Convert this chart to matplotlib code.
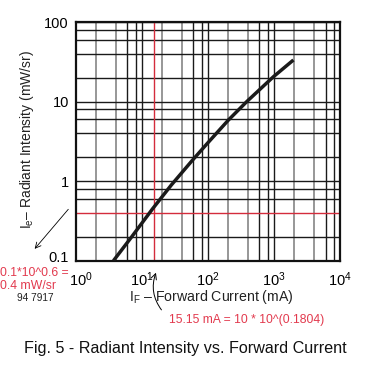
import matplotlib
matplotlib.use("Agg")
import matplotlib.pyplot as plt
import matplotlib.transforms as mtransforms
from matplotlib.ticker import FixedLocator, NullFormatter

plt.rcParams['font.family'] = ['Liberation Sans', 'DejaVu Sans']
plt.rcParams['mathtext.fontset'] = 'custom'
plt.rcParams['mathtext.rm'] = 'Liberation Sans'
plt.rcParams['mathtext.it'] = 'Liberation Sans:italic'

# curve
forward_current = [3.7, 7.0, 14.5, 28, 58, 100, 203, 386, 975, 1960]
radiant_intensity = [0.1, 0.2, 0.45, 0.9, 1.83, 3.05, 5.85, 10.0, 20.5, 33.3]

x_ticks = [1, 10, 100, 1000, 10000]
x_ticklabels = [r'$\mathregular{10^{0}}$', r'$\mathregular{10^{1}}$',
                r'$\mathregular{10^{2}}$', r'$\mathregular{10^{3}}$',
                r'$\mathregular{10^{4}}$']
y_ticks = [0.1, 1, 10, 100]
y_ticklabels = ['0.1', '1', '10', '100']

marked_current = 15.15
marked_intensity = 0.4

red = '#d42c3c'
red_text = '#e23a4e'

fig = plt.figure(figsize=(3.65, 3.68), dpi=100)
ax = fig.add_axes([0.208, 0.2916, 0.724, 0.6486])
ax.set_xscale('log')
ax.set_yscale('log')
ax.set_xlim(1, 10000)
ax.set_ylim(0.1, 100)

# grid: 2,4 lighter, 6,8 and decades dark
for dec in [1, 10, 100, 1000]:
    for m in [2, 4]:
        ax.axvline(dec * m, color='#7a7a7a', lw=1.1, zorder=1)
    for m in [6, 8, 10]:
        ax.axvline(dec * m, color='#1a1a1a', lw=1.0, zorder=1)
for dec in [0.1, 1, 10]:
    for m in [2, 4, 6, 8, 10]:
        if dec * m == marked_intensity:
            continue
        ax.axhline(dec * m, color='#1a1a1a', lw=1.0, zorder=1)

ax.axvline(marked_current, color=red, lw=1.0, zorder=2)
ax.axhline(marked_intensity, color=red, lw=1.0, zorder=2)

ax.plot(forward_current, radiant_intensity, color='#1a1a1a', lw=2.5,
        solid_capstyle='butt', solid_joinstyle='round', zorder=3)

ax.xaxis.set_major_locator(FixedLocator(x_ticks))
ax.yaxis.set_major_locator(FixedLocator(y_ticks))
ax.xaxis.set_minor_formatter(NullFormatter())
ax.yaxis.set_minor_formatter(NullFormatter())
ax.set_xticklabels(x_ticklabels, fontsize=10.5)
ax.set_yticklabels(y_ticklabels, fontsize=10.5)
ax.tick_params(which='both', length=0)
ax.tick_params(axis='x', pad=7)
ax.tick_params(axis='y', pad=5)
# first x label sits a bit to the right, clear of the 0.1 label
first = ax.get_xticklabels()[0]
first.set_transform(first.get_transform() +
                    mtransforms.ScaledTranslation(5 / 100, 0,
                                                  fig.dpi_scale_trans))
ylab = ax.get_yticklabels()[0]
ylab.set_transform(ylab.get_transform() +
                   mtransforms.ScaledTranslation(0, 4 / 100,
                                                 fig.dpi_scale_trans))
for s in ax.spines.values():
    s.set_linewidth(1.6)
    s.set_color('#111111')

fig.text(0.578, 0.194, r'$\mathregular{I_F}$ ' + '\u2013 Forward Current (mA)',
         ha='center', va='center', fontsize=10.2, color='#222222')
fig.text(0.074, 0.622, r'$\mathregular{I_e}$' + '\u2013 Radiant Intensity (mW/sr)',
         ha='center', va='center', rotation=90, fontsize=10,
         color='#222222')

fig.text(0.507, 0.054, 'Fig. 5 - Radiant Intensity vs. Forward Current',
         ha='center', va='center', fontsize=11.6, color='#111111')

# handwritten notes
fig.text(0.0, 0.258, '0.1*10^0.6 =', ha='left', va='center', fontsize=8.8,
         color=red_text)
fig.text(0.0, 0.222, '0.4 mW/sr', ha='left', va='center', fontsize=8.8,
         color=red_text)
fig.text(0.096, 0.19, '94 7917', ha='center', va='center', fontsize=7.3,
         color='#222222')
fig.text(0.463, 0.13, '15.15 mA = 10 * 10^(0.1804)', ha='left',
         va='center', fontsize=8.7, color=red_text)

ax.annotate('', xy=(0.09, 0.318), xycoords='figure fraction',
            xytext=(0.192, 0.437), textcoords='figure fraction',
            arrowprops=dict(arrowstyle='->', color='black', lw=0.6))
ax.annotate('', xy=(0.43, 0.266), xycoords='figure fraction',
            xytext=(0.447, 0.152), textcoords='figure fraction',
            arrowprops=dict(arrowstyle='->', color='black', lw=0.7,
                            connectionstyle='arc3,rad=-0.3'))

fig.savefig('out.png', dpi=100)
